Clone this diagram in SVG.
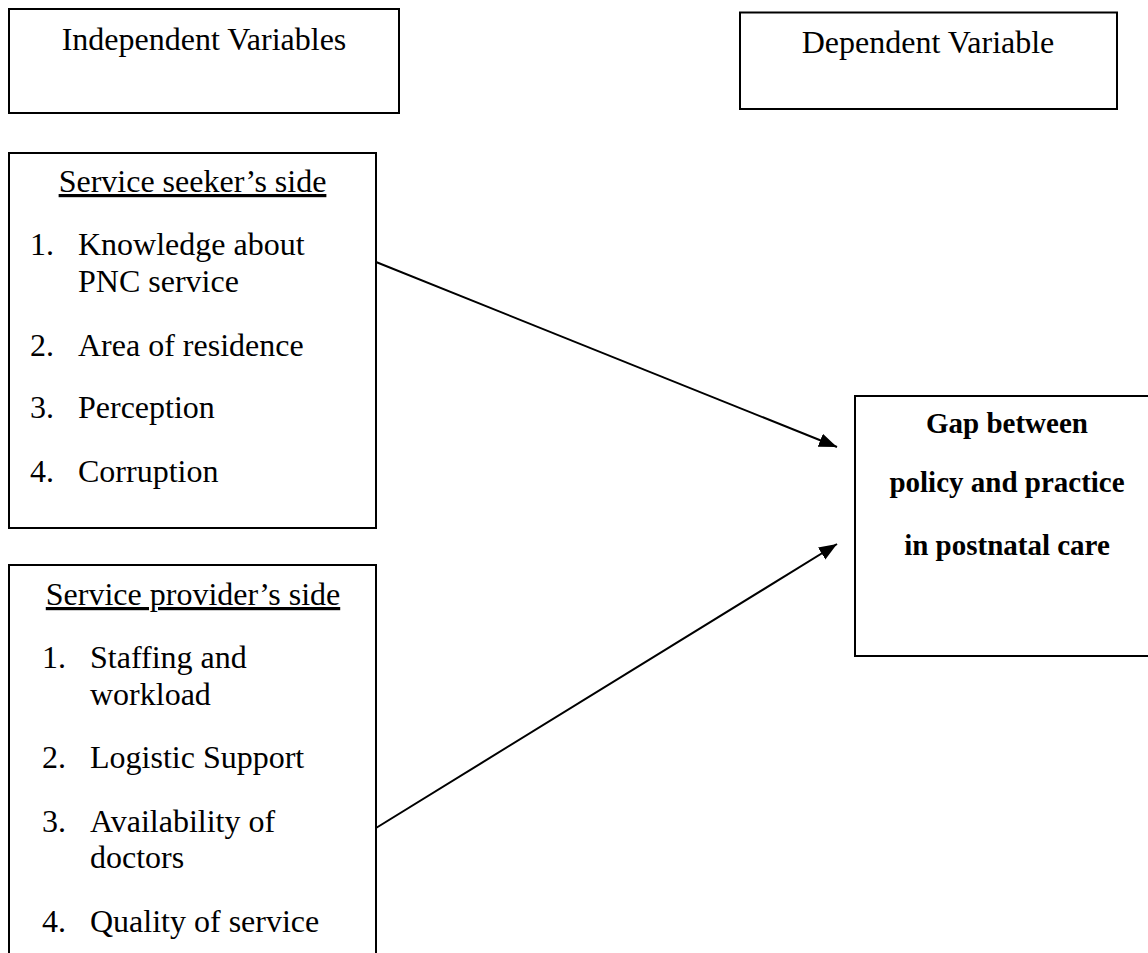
<svg xmlns="http://www.w3.org/2000/svg" width="1148" height="953" viewBox="0 0 1148 953">
<defs>
<style>
.box{fill:#fff;stroke:#000;stroke-width:2}
.t{font-family:"Liberation Serif","Times New Roman",serif;font-size:32px;fill:#000}
.b{font-family:"Liberation Serif","Times New Roman",serif;font-size:29px;font-weight:bold;fill:#000}
.c{text-anchor:middle}
.u{text-decoration:underline}
.conn{stroke:#000;stroke-width:2;fill:none}
</style>
<marker id="ah" markerUnits="userSpaceOnUse" markerWidth="20" markerHeight="16" refX="18" refY="7" orient="auto">
<path d="M0,0 L18,7 L0,14 Z" fill="#000"/>
</marker>
</defs>
<rect width="1148" height="953" fill="#fff"/>
<g id="independent">
<rect class="box" x="9" y="9" width="390" height="104"/>
<text class="t c" x="204" y="50">Independent Variables</text>
</g>
<g id="dependent">
<rect class="box" x="740" y="12.5" width="377" height="96.5"/>
<text class="t c" x="928" y="53">Dependent Variable</text>
</g>
<g id="seeker">
<rect class="box" x="9" y="153" width="367" height="375"/>
<text class="t c u" x="192.5" y="192">Service seeker’s side</text>
<text class="t" x="30" y="255">1.</text><text class="t" x="78" y="255">Knowledge about</text>
<text class="t" x="78" y="292">PNC service</text>
<text class="t" x="30" y="356">2.</text><text class="t" x="78" y="356">Area of residence</text>
<text class="t" x="30" y="418">3.</text><text class="t" x="78" y="418">Perception</text>
<text class="t" x="30" y="482">4.</text><text class="t" x="78" y="482">Corruption</text>
</g>
<g id="provider">
<rect class="box" x="9" y="565" width="367" height="400"/>
<text class="t c u" x="193" y="605">Service provider’s side</text>
<text class="t" x="42" y="668">1.</text><text class="t" x="90" y="668">Staffing and</text>
<text class="t" x="90" y="705">workload</text>
<text class="t" x="42" y="768">2.</text><text class="t" x="90" y="768">Logistic Support</text>
<text class="t" x="42" y="832">3.</text><text class="t" x="90" y="832">Availability of</text>
<text class="t" x="90" y="868">doctors</text>
<text class="t" x="42" y="932">4.</text><text class="t" x="90" y="932">Quality of service</text>
</g>
<g id="gap">
<rect class="box" x="855" y="396" width="310" height="260"/>
<text class="b c" x="1007" y="433">Gap between</text>
<text class="b c" x="1007" y="492">policy and practice</text>
<text class="b c" x="1007" y="555">in postnatal care</text>
</g>
<g id="connectors">
<line class="conn" x1="376" y1="262" x2="837" y2="447" marker-end="url(#ah)"/>
<line class="conn" x1="376" y1="828" x2="837" y2="544" marker-end="url(#ah)"/>
</g>
</svg>
